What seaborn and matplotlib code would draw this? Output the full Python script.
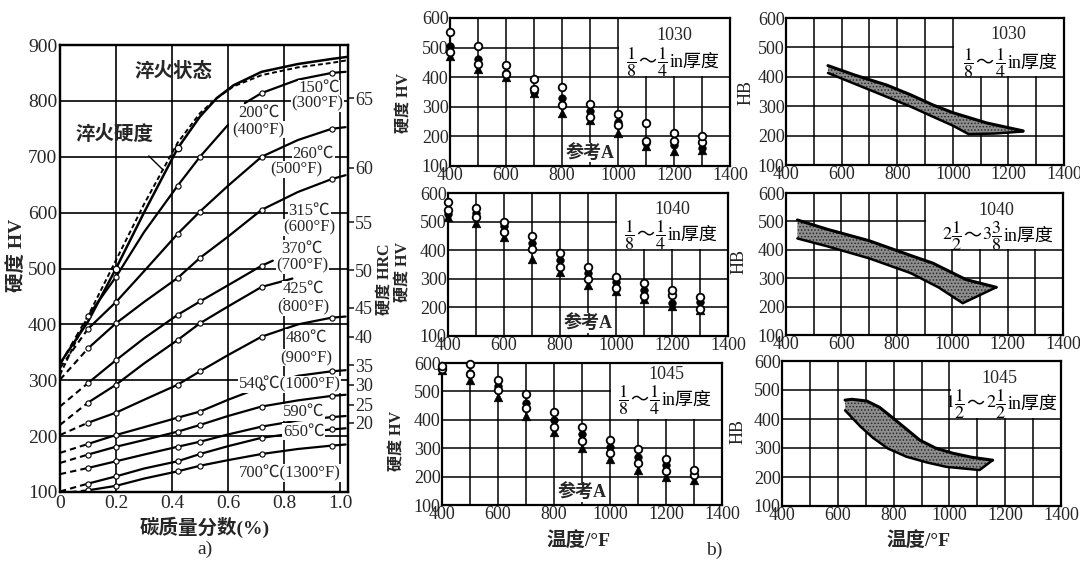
import matplotlib
matplotlib.use("Agg")
import matplotlib.pyplot as plt
import seaborn as sns
from matplotlib.patches import Rectangle
from matplotlib.offsetbox import TextArea, HPacker, AnnotationBbox

sns.set_theme(style="white")
plt.rcParams['font.family'] = ['Liberation Serif', 'Noto Sans CJK SC']
plt.rcParams['mathtext.fontset'] = 'stix'
plt.rcParams['hatch.color'] = '#2a2a2a'
plt.rcParams['hatch.linewidth'] = 0.7

# %% data, a) hardness vs carbon
carbon = [0, 0.1, 0.2, 0.3, 0.42, 0.5, 0.6, 0.72, 0.85, 0.97, 1.02]
c_quench = [0, 0.1, 0.2, 0.3, 0.42, 0.5, 0.56, 0.62, 0.72, 0.85, 0.97, 1.03]
quench_solid = [330, 405, 500, 600, 715, 772, 805, 828, 852, 866, 875, 879]
quench_dash = [310, 415, 515, 615, 725, 778, 805, 826, 846, 860, 868, 873]

c150 = [0.66, 0.72, 0.85, 0.97, 1.02]
hv150 = [796, 814, 838, 850, 852]
c200 = [0, 0.1, 0.2, 0.3, 0.42, 0.5, 0.6]
hv200 = [328, 415, 485, 565, 648, 700, 757]
hv260 = [322, 392, 440, 495, 562, 602, 648, 700, 730, 750, 753]
hv315 = [301, 357, 402, 440, 483, 519, 557, 605, 637, 660, 667]
c370 = [0, 0.1, 0.2, 0.3, 0.42, 0.5, 0.6, 0.72, 0.76]
hv370 = [253, 295, 336, 375, 417, 441, 470, 505, 514]
c425 = [0, 0.1, 0.2, 0.3, 0.42, 0.5, 0.6, 0.72, 0.83]
hv425 = [220, 260, 292, 330, 372, 402, 432, 467, 482]
hv480 = [202, 224, 242, 265, 292, 316, 345, 378, 400, 412, 414]
hv540 = [170, 186, 202, 216, 233, 244, 265, 288, 308, 316, 318]
hv565 = [152, 167, 181, 193, 208, 220, 236, 253, 264, 272, 274]
hv590 = [132, 143, 155, 167, 181, 190, 203, 217, 228, 234, 236]
hv650 = [101, 115, 128, 142, 155, 168, 182, 197, 206, 212, 214]
hv700 = [98, 103, 111, 124, 137, 147, 157, 168, 177, 183, 185]
marked_c = [0.1, 0.2, 0.42, 0.5, 0.72, 0.97]

hrc_labels = ['65', '60', '55', '50', '45', '40', '35', '30', '25', '20']
hrc_at_hv = [805, 680, 583, 497, 430, 378, 327, 292, 256, 224]

# %% data, b) hardness vs tempering temperature
temps = [400, 500, 600, 700, 800, 900, 1000, 1100, 1200, 1300]

s1030_open_a = [552, 507, 442, 395, 367, 310, 275, 245, 210, 200]
s1030_open_b = [485, 445, 410, 360, 305, 265, 240, 185, 185, 180]
s1030_filled = [505, 460, 415, 350, 330, 285, 250, 178, 170, 162]
s1030_tri = [470, 428, 400, 345, 280, 255, 210, 168, 150, 155]

s1040_open_a = [570, 547, 500, 448, 390, 343, 308, 284, 260, 238]
s1040_open_b = [540, 515, 465, 405, 340, 300, 267, 240, 245, 195]
s1040_filled = [525, 530, 483, 425, 365, 320, 290, 262, 215, 220]
s1040_tri = [515, 495, 445, 370, 325, 280, 258, 228, 205, 190]

s1045_open_a = [590, 598, 540, 490, 428, 375, 328, 298, 262, 222]
s1045_open_b = [580, 560, 505, 440, 375, 325, 282, 248, 218, 205]
s1045_filled = [585, 565, 520, 460, 400, 350, 305, 270, 240, 205]
s1045_tri = [575, 540, 480, 415, 358, 300, 262, 225, 200, 188]

# HB bands (upper / lower edge)
b1030_up_t = [551, 650, 762, 850, 929, 1000, 1122, 1253]
b1030_up = [438, 405, 372, 338, 304, 278, 243, 216]
b1030_lo_t = [551, 650, 762, 850, 929, 1000, 1057, 1150, 1253]
b1030_lo = [413, 375, 332, 298, 264, 234, 205, 207, 214]

b1040_up_t = [441, 550, 700, 850, 930, 1050, 1159]
b1040_up = [505, 472, 432, 380, 353, 295, 268]
b1040_lo_t = [441, 550, 700, 850, 950, 1038, 1159]
b1040_lo = [440, 412, 370, 318, 268, 212, 268]

b1045_up_t = [626, 650, 704, 750, 798, 850, 894, 950, 1012, 1080, 1155]
b1045_up = [465, 468, 462, 440, 403, 362, 327, 300, 282, 268, 258]
b1045_lo_t = [626, 680, 726, 780, 846, 920, 989, 1108, 1155]
b1045_lo = [430, 375, 335, 298, 270, 250, 235, 224, 258]

# %% figure
fig = plt.figure(figsize=(10.8, 5.61), dpi=100)


def box(px0, py0, px1, py1):
    return [px0 / 1080, 1 - py1 / 561, (px1 - px0) / 1080, (py1 - py0) / 561]


def ftxt(px, py, s, **kw):
    fig.text(px / 1080, 1 - py / 561, s, ha='center', va='center', **kw)


def frame(ax):
    for sp in ax.spines.values():
        sp.set_color('black')
        sp.set_linewidth(1.6)


def thickness(ax, x, y, pieces):
    # mixed fraction text: mathtext for the fractions, CJK font for the rest
    kids = [TextArea(p, textprops=dict(fontsize=13, color='black')) for p in pieces]
    pack = HPacker(children=kids, align='center', pad=0, sep=1)
    ab = AnnotationBbox(pack, (x, y), xycoords='data', frameon=False,
                        box_alignment=(0.5, 0.5), pad=0)
    ab.set_zorder(6)
    ax.add_artist(ab)


def curve(ax, c, hv, dashed_start=True):
    if dashed_start and c[0] == 0:
        sns.lineplot(x=c[:2], y=hv[:2], ax=ax, color='black', lw=1.5,
                     linestyle=(0, (3, 2)), sort=False, estimator=None)
        sns.lineplot(x=c[1:], y=hv[1:], ax=ax, color='black', lw=1.6,
                     sort=False, estimator=None)
    else:
        sns.lineplot(x=c, y=hv, ax=ax, color='black', lw=1.6,
                     sort=False, estimator=None)
    mx = [x for x in c if x in marked_c]
    my = [y for x, y in zip(c, hv) if x in marked_c]
    sns.scatterplot(x=mx, y=my, ax=ax, marker='o', s=14, color='white',
                    edgecolor='black', linewidth=0.8, zorder=4)


# ---- a)
ax = fig.add_axes(box(60, 45, 348, 492))
ax.set_xlim(0, 1.0286)
ax.set_ylim(100, 900)
ax.set_xticks([0, 0.2, 0.4, 0.6, 0.8, 1.0])
ax.set_xticklabels(['0', '0.2', '0.4', '0.6', '0.8', '1.0'])
ax.set_yticks(range(100, 901, 100))
ax.grid(True, color='black', lw=1.2)
ax.tick_params(labelsize=14, length=0, pad=2)
frame(ax)

sns.lineplot(x=c_quench, y=quench_dash, ax=ax, color='black', lw=1.4,
             linestyle=(0, (2.5, 1.5)), sort=False, estimator=None)
sns.lineplot(x=c_quench, y=quench_solid, ax=ax, color='black', lw=1.8,
             sort=False, estimator=None)
sns.scatterplot(x=[0.2, 0.42], y=[500, 715], ax=ax, marker='o', s=22,
                color='white', edgecolor='black', linewidth=0.9, zorder=4)
curve(ax, c150, hv150)
curve(ax, c200, hv200)
for hv in [hv260, hv315, hv480, hv540, hv565, hv590, hv650, hv700]:
    curve(ax, carbon, hv)
curve(ax, c370, hv370)
curve(ax, c425, hv425)

tkw = dict(ha='center', va='center', fontsize=12,
           bbox=dict(facecolor='white', edgecolor='none', pad=0.4))
ax.text(0.405, 852, '淬火状态', fontsize=14, fontweight='bold', ha='center', va='center')
ax.text(0.195, 740, '淬火硬度', fontsize=14, fontweight='bold', ha='center', va='center')
ax.annotate('', xy=(0.375, 673), xytext=(0.31, 705),
            arrowprops=dict(arrowstyle='-', lw=1.0, color='black'))
ax.text(0.925, 823, '150℃', **tkw)
ax.text(0.92, 795, '(300°F)', **tkw)
ax.text(0.71, 778, '200℃', **tkw)
ax.text(0.71, 748, '(400°F)', **tkw)
ax.text(0.905, 705, '260℃', **tkw)
ax.text(0.845, 678, '(500°F)', **tkw)
ax.text(0.89, 603, '315℃', **tkw)
ax.text(0.89, 573, '(600°F)', **tkw)
ax.text(0.865, 535, '370℃', **tkw)
ax.text(0.865, 505, '(700°F)', **tkw)
ax.text(0.87, 463, '425℃', **tkw)
ax.text(0.87, 431, '(800°F)', **tkw)
ax.text(0.88, 376, '480℃', **tkw)
ax.text(0.88, 340, '(900°F)', **tkw)
ax.text(0.82, 292, '540℃(1000°F)', **tkw)
ax.text(0.87, 243, '590℃', **tkw)
ax.text(0.87, 208, '650℃', **tkw)
ax.text(0.82, 134, '700℃(1300°F)', **tkw)

tw = ax.twinx()
tw.set_ylim(100, 900)
tw.set_yticks(hrc_at_hv)
tw.set_yticklabels(hrc_labels)
tw.grid(False)
tw.tick_params(axis='y', right=True, direction='out', length=4, width=1.2,
               labelsize=13, pad=1)
frame(tw)

ftxt(17, 255, '硬度 HV', fontsize=14, fontweight='bold', rotation=90)
ftxt(385, 279, '硬度 HRC', fontsize=11.5, fontweight='bold', rotation=90)
ftxt(205, 527, '碳质量分数(%)', fontsize=14, fontweight='bold')
ftxt(205, 549, 'a)', fontsize=14)

# ---- b) middle: HV points
mid_boxes = [box(450, 18, 730, 166), box(448, 193, 728, 336), box(442, 363, 722, 505)]
mid_series = [
    (s1030_open_a, s1030_open_b, s1030_filled, s1030_tri),
    (s1040_open_a, s1040_open_b, s1040_filled, s1040_tri),
    (s1045_open_a, s1045_open_b, s1045_filled, s1045_tri),
]
mid_grades = ['1030', '1040', '1045']
mid_label_y = [(541, 451), (542, 452), (560, 470)]
mid_ylab = [(404, 103), (403, 272), (397, 441)]

right_boxes = [box(786, 18, 1064, 165), box(786, 193, 1063, 335), box(782, 361, 1061, 506)]
bands = [
    (b1030_up_t, b1030_up, b1030_lo_t, b1030_lo),
    (b1040_up_t, b1040_up, b1040_lo_t, b1040_lo),
    (b1045_up_t, b1045_up, b1045_lo_t, b1045_lo),
]
thin_text = [r'$\dfrac{1}{8}$', '～', r'$\dfrac{1}{4}$', 'in厚度']
right_thick = [
    thin_text,
    [r'$2\dfrac{1}{2}$', '～', r'$3\dfrac{3}{8}$', 'in厚度'],
    [r'$1\dfrac{1}{2}$', '～', r'$2\dfrac{1}{2}$', 'in厚度'],
]
right_grade_xy = [(1199, 544), (1160, 539), (1180, 540)]
right_thick_xy = [(1206, 447), (1164, 448), (1186, 451)]
right_box_x0 = [1000, 900, 1000]
right_ylab = [(746, 92), (739, 262), (738, 432)]


def temp_axes(b):
    a = fig.add_axes(b)
    a.set_xlim(400, 1400)
    a.set_ylim(100, 600)
    a.set_xticks(range(400, 1401, 200))
    a.set_xticks(range(500, 1400, 200), minor=True)
    a.set_yticks(range(100, 601, 100))
    a.grid(True, which='both', color='black', lw=1.1)
    a.tick_params(labelsize=13, length=0, pad=1)
    frame(a)
    return a


for i in range(3):
    a = temp_axes(mid_boxes[i])
    a.add_patch(Rectangle((1004, 404), 394, 194, facecolor='white',
                          edgecolor='none', zorder=1))
    open_a, open_b, filled, tri = mid_series[i]
    sns.scatterplot(x=temps, y=tri, ax=a, marker='^', s=38, color='black',
                    edgecolor='black', zorder=3, clip_on=False)
    sns.scatterplot(x=temps, y=filled, ax=a, marker='o', s=30, color='black',
                    edgecolor='black', zorder=3, clip_on=False)
    for ser in (open_b, open_a):
        sns.scatterplot(x=temps, y=ser, ax=a, marker='o', s=30, color='white',
                        edgecolor='black', linewidth=1.3, zorder=4, clip_on=False)
    gx, gy = mid_label_y[i]
    a.text(1200, gx, mid_grades[i], fontsize=13, ha='center', va='center')
    thickness(a, 1195, gy, thin_text)
    a.text(900, 145, '参考A', fontsize=13, fontweight='bold', ha='center', va='center',
           bbox=dict(facecolor='white', edgecolor='none', pad=0.5))
    px, py = mid_ylab[i]
    ftxt(px, py, '硬度 HV', fontsize=11.5, fontweight='bold', rotation=90)

# ---- b) right: HB bands
for i in range(3):
    a = temp_axes(right_boxes[i])
    x0 = right_box_x0[i]
    a.add_patch(Rectangle((x0 + 4, 404), 1400 - x0 - 6, 194, facecolor='white',
                          edgecolor='none', zorder=1))
    up_t, up, lo_t, lo = bands[i]
    poly_x = list(up_t) + list(lo_t[::-1])
    poly_y = list(up) + list(lo[::-1])
    a.fill(poly_x, poly_y, facecolor='#8e8e8e', edgecolor='#2a2a2a',
           hatch='.....', linewidth=0, zorder=2)
    sns.lineplot(x=up_t, y=up, ax=a, color='black', lw=2.2, sort=False,
                 estimator=None, zorder=3)
    sns.lineplot(x=lo_t, y=lo, ax=a, color='black', lw=1.8, sort=False,
                 estimator=None, zorder=3)
    gx, gy = right_grade_xy[i]
    a.text(gx, gy, mid_grades[i], fontsize=13, ha='center', va='center')
    tx, ty = right_thick_xy[i]
    thickness(a, tx, ty, right_thick[i])
    px, py = right_ylab[i]
    ftxt(px, py, 'HB', fontsize=13, rotation=90)

ftxt(578, 541, '温度/°F', fontsize=14, fontweight='bold')
ftxt(918, 541, '温度/°F', fontsize=14, fontweight='bold')
ftxt(714, 550, 'b)', fontsize=14)

fig.savefig('out.png', dpi=100, facecolor='white')
